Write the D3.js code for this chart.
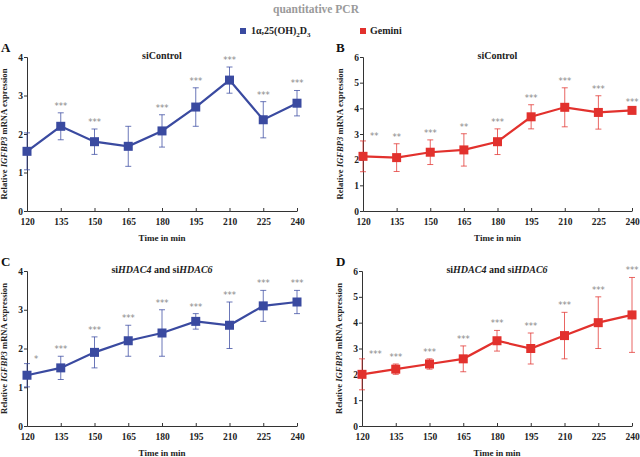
<!DOCTYPE html>
<html><head><meta charset="utf-8">
<script src="https://cdn.jsdelivr.net/npm/d3@7"></script>
<style>body{margin:0;background:#fff}svg{display:block;font-family:"Liberation Serif","Times New Roman",serif;font-weight:bold}</style>
</head><body>
<svg id="c" width="640" height="457"></svg>
<script>
const times = [120,135,150,165,180,195,210,225,240];
const aVals = [1.55,2.2,1.8,1.68,2.08,2.7,3.4,2.37,2.8];
const aErr  = [0.48,0.35,0.33,0.52,0.42,0.5,0.34,0.47,0.33];
const aSig  = ["","***","***","","***","***","***","***","***"];
const bVals = [2.13,2.08,2.29,2.38,2.7,3.67,4.04,3.84,3.92];
const bErr  = [0.6,0.54,0.48,0.63,0.5,0.47,0.76,0.65,0.04];
const bSig  = ["**","**","***","**","***","***","***","***","***"];
const cVals = [1.31,1.5,1.9,2.2,2.4,2.7,2.6,3.1,3.2];
const cErr  = [0.3,0.3,0.4,0.4,0.6,0.2,0.6,0.4,0.3];
const cSig  = ["*","***","***","***","***","***","***","***","***"];
const dVals = [2.0,2.2,2.4,2.6,3.3,3.0,3.5,4.0,4.3];
const dErr  = [0.6,0.2,0.2,0.5,0.4,0.6,0.9,1.0,1.45];
const dSig  = ["***","***","***","***","***","***","***","***","***"];
const seriesNames = ["1α,25(OH)", "Gemini"];
const blue = "#3a4aa0", red = "#e2312d";

const svg = d3.select("#c");

// Title
svg.append("text").attr("x",316).attr("y",13).attr("text-anchor","middle")
  .attr("font-size",11.5).attr("fill","#9a9a9a").text("quantitative PCR");

// Legend
svg.append("rect").attr("x",240).attr("y",28).attr("width",6).attr("height",6).attr("fill",blue);
const lt = svg.append("text").attr("x",251).attr("y",34).attr("font-size",10).attr("fill","#222");
lt.append("tspan").text(seriesNames[0]);
lt.append("tspan").attr("font-size",7).attr("dy",3).text("2");
lt.append("tspan").attr("dy",-3).text("D");
lt.append("tspan").attr("font-size",7).attr("dy",3).text("3");
svg.append("rect").attr("x",360).attr("y",28).attr("width",6).attr("height",6).attr("fill",red);
svg.append("text").attr("x",370).attr("y",34).attr("font-size",10).attr("fill","#222").text(seriesNames[1]);

function panel(o){
  const x = d3.scalePoint().domain(times).range([o.x0,o.x1]);
  const y = d3.scaleLinear().domain([0,o.ymax]).range([o.yb,o.yt]);
  const g = svg.append("g");
  const ya = g.append("g").attr("transform",`translate(${o.x0},0)`)
    .call(d3.axisLeft(y).ticks(o.ymax).tickSize(3).tickFormat(d3.format("d")));
  const xa = g.append("g").attr("transform",`translate(0,${o.yb})`)
    .call(d3.axisBottom(x).tickSizeInner(-3).tickSizeOuter(0).tickPadding(7));
  [ya,xa].forEach(a=>{
    a.select(".domain").attr("stroke","#333").attr("stroke-width",1);
    a.selectAll(".tick line").attr("stroke","#333");
    a.selectAll("text").attr("font-size",9.5).attr("fill","#222").attr("font-family","Liberation Serif").attr("font-weight","bold");
  });
  ya.selectAll("text").attr("dx",2);
  svg.append("text").attr("x",o.lx).attr("y",o.yt-5).attr("font-size",13).attr("fill","#111").text(o.letter);
  const st = svg.append("text").attr("x",(o.x0+o.x1)/2).attr("y",o.yt+2).attr("text-anchor","middle")
    .attr("font-size",10).attr("fill","#222");
  o.sub.forEach(s=>st.append("tspan").attr("font-style",s[1]?"italic":"normal").text(s[0]));
  svg.append("text").attr("x",(o.x0+o.x1)/2).attr("y",o.yb+30).attr("text-anchor","middle")
    .attr("font-size",9).attr("fill","#222").text("Time in min");
  const yl = svg.append("text").attr("transform",`translate(${o.x0-20},${(o.yt+o.yb)/2}) rotate(-90)`)
    .attr("text-anchor","middle").attr("font-size",8.6).attr("fill","#222");
  yl.append("tspan").text("Relative ");
  yl.append("tspan").attr("font-style","italic").text("IGFBP3");
  yl.append("tspan").text(" mRNA expression");
  const eb = g.append("g").attr("stroke",o.color).attr("stroke-opacity",0.75).attr("stroke-width",1);
  times.forEach((t,i)=>{
    const cx = x(t), hi = y(o.vals[i]+o.err[i]), lo = y(o.vals[i]-o.err[i]);
    eb.append("line").attr("x1",cx).attr("x2",cx).attr("y1",hi).attr("y2",lo);
    eb.append("line").attr("x1",cx-3).attr("x2",cx+3).attr("y1",hi).attr("y2",hi);
    eb.append("line").attr("x1",cx-3).attr("x2",cx+3).attr("y1",lo).attr("y2",lo);
  });
  g.append("path").datum(times.map((t,i)=>[t,o.vals[i]]))
    .attr("fill","none").attr("stroke",o.color).attr("stroke-width",2.2)
    .attr("d",d3.line().x(d=>x(d[0])).y(d=>y(d[1])));
  g.selectAll(null).data(times).enter().append("rect")
    .attr("x",t=>x(t)-4.5).attr("y",(t,i)=>y(o.vals[i])-4.5)
    .attr("width",9).attr("height",9).attr("fill",o.color);
  g.selectAll(null).data(times).enter().append("text")
    .attr("x",(t,i)=>x(t)+(i===0?7:0)).attr("y",(t,i)=>y(o.vals[i]+o.err[i])-4+(i===0?2:0))
    .attr("text-anchor",(t,i)=>i===0?"start":"middle")
    .attr("font-size",8.5).attr("fill","#888").attr("font-family","DejaVu Sans").attr("font-weight","normal")
    .text((t,i)=>o.sig[i]);
}

panel({x0:27,x1:297,yt:57,yb:211,ymax:4,vals:aVals,err:aErr,sig:aSig,color:blue,letter:"A",lx:1,sub:[["siControl",0]]});
panel({x0:363,x1:632,yt:57,yb:211,ymax:6,vals:bVals,err:bErr,sig:bSig,color:red,letter:"B",lx:336,sub:[["siControl",0]]});
panel({x0:27,x1:297,yt:271,yb:426,ymax:4,vals:cVals,err:cErr,sig:cSig,color:blue,letter:"C",lx:1,sub:[["si",0],["HDAC4",1],[" and si",0],["HDAC6",1]]});
panel({x0:362,x1:632,yt:271,yb:426,ymax:6,vals:dVals,err:dErr,sig:dSig,color:red,letter:"D",lx:336,sub:[["si",0],["HDAC4",1],[" and si",0],["HDAC6",1]]});
</script>
</body></html>
